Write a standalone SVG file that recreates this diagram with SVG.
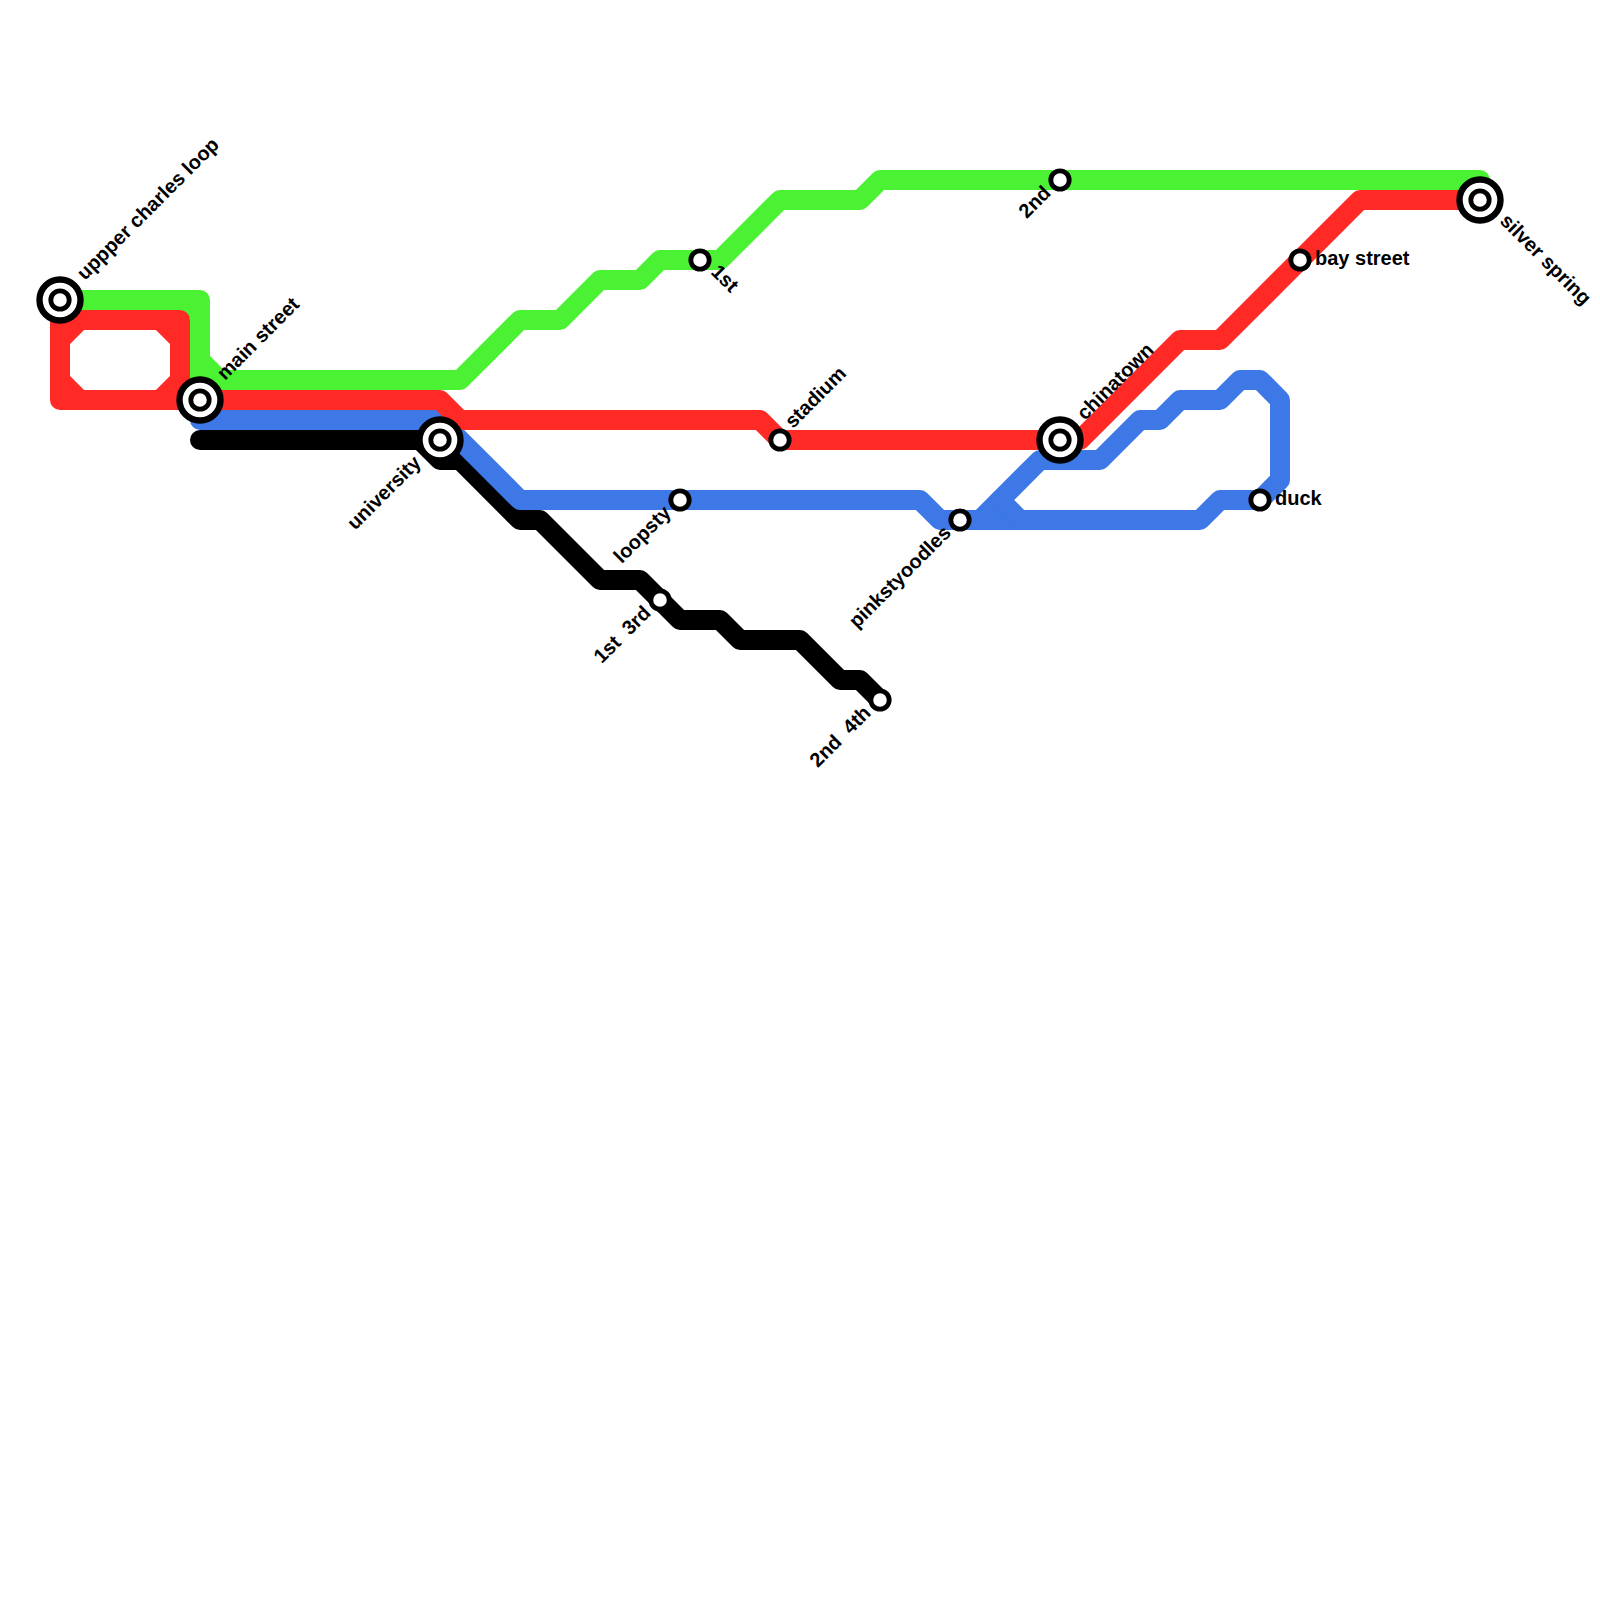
<svg xmlns="http://www.w3.org/2000/svg" width="1600" height="1600" viewBox="0 0 1600 1600">
<style>
.l{fill:none;stroke-width:20;stroke-linejoin:round;stroke-linecap:round}
.g{stroke:#4bf133}.r{stroke:#ff2a26}.b{stroke:#3d78e6}.k{stroke:#000}
.big{fill:#fff;stroke:#000;stroke-width:6.4}
.sm{fill:#fff;stroke:#000;stroke-width:4.8}
text{font-family:"Liberation Sans",Arial,sans-serif;font-weight:bold;font-size:20px;fill:#000;white-space:pre}
.e{text-anchor:end}
</style>
<rect width="1600" height="1600" fill="#fff"/>
<g id="connectors">
<path class="l g" d="M60,300H200V360L220,380H460L520,320H560L600,280H640L660,260H720L780,200H860L880,180H1480V200"/>
<path class="l g" d="M200,360V400"/>
<rect x="182" y="308" width="10" height="10" fill="#4bf133"/>
<path class="l k" d="M200,440H420L440,460H460L520,520H540L600,580H640L680,620H720L740,640H800L840,680H860L880,700"/>
<path class="l b" d="M200,420H440L520,500H920L940,520H1200L1220,500H1260L1280,480V400L1260,380H1240L1220,400H1180L1160,420H1140L1100,460H1040L980,520"/>
<path class="l b" d="M1000,500L1020,520"/>
<path class="l r" d="M60,300V400H200H440L460,420H760L780,440H1080L1180,340H1220L1360,200H1480"/>
<path class="l r" d="M60,320H180V400"/>
<path class="l r" d="M60,340L80,320M160,320L180,340M180,380L160,400M60,380L80,400"/>
</g>
<g id="upper-charles-loop"><circle class="big" cx="60" cy="300" r="20.5"/><circle class="sm" cx="60" cy="300" r="9.2"/><text transform="translate(85,281) rotate(-45)">uppper charles loop</text></g>
<g id="main-street"><circle class="big" cx="200" cy="400" r="20.5"/><circle class="sm" cx="200" cy="400" r="9.2"/><text transform="translate(225,381) rotate(-45)">main street</text></g>
<g id="university"><circle class="big" cx="440" cy="440" r="20.5"/><circle class="sm" cx="440" cy="440" r="9.2"/><text class="e" transform="translate(422,464) rotate(-45)">university</text></g>
<g id="chinatown"><circle class="big" cx="1060" cy="440" r="20.5"/><circle class="sm" cx="1060" cy="440" r="9.2"/><text transform="translate(1085,421) rotate(-45)">chinatown</text></g>
<g id="silver-spring"><circle class="big" cx="1480" cy="200" r="20.5"/><circle class="sm" cx="1480" cy="200" r="9.2"/><text transform="translate(1499,222) rotate(45)">silver spring</text></g>
<g id="loopsty"><circle class="sm" cx="680" cy="500" r="9.2"/><text class="e" transform="translate(672,514) rotate(-45)">loopsty</text></g>
<g id="st1-3rd"><circle class="sm" cx="660" cy="600" r="9.2"/><text class="e" transform="translate(652,614) rotate(-45)" xml:space="preserve">1st  3rd</text></g>
<g id="st1"><circle class="sm" cx="700" cy="260" r="9.2"/><text transform="translate(710,273) rotate(45)">1st</text></g>
<g id="stadium"><circle class="sm" cx="780" cy="440" r="9.2"/><text transform="translate(793,429) rotate(-45)">stadium</text></g>
<g id="pinkstyoodles"><circle class="sm" cx="960" cy="520" r="9.2"/><text class="e" transform="translate(952,534) rotate(-45)">pinkstyoodles</text></g>
<g id="st2"><circle class="sm" cx="1060" cy="180" r="9.2"/><text class="e" transform="translate(1052,194) rotate(-45)">2nd</text></g>
<g id="duck"><circle class="sm" cx="1260" cy="500" r="9.2"/><text x="1275" y="505">duck</text></g>
<g id="bay-street"><circle class="sm" cx="1300" cy="260" r="9.2"/><text x="1315" y="265">bay street</text></g>
<g id="st2-4th"><circle class="sm" cx="880" cy="700" r="9.2"/><text class="e" transform="translate(872,714) rotate(-45)" xml:space="preserve">2nd  4th</text></g>
</svg>
